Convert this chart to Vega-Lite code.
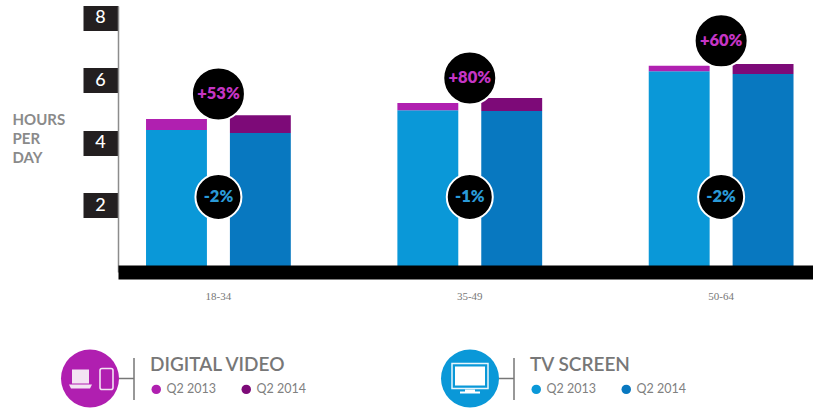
{
 "$schema":"https://vega.github.io/schema/vega-lite/v6.json",
 "width":695,"height":266,
 "autosize":{"type":"none"},
 "padding":{"left":118,"top":6,"right":0,"bottom":136},
 "background":"white",
 "config":{"view":{"stroke":null},"font":"Lato"},
 "datasets":{
  "bars":[
   {"age":"18-34","quarter":"Q2 2013","tv":4.40,"total":4.76},
   {"age":"18-34","quarter":"Q2 2014","tv":4.31,"total":4.88},
   {"age":"35-49","quarter":"Q2 2013","tv":5.04,"total":5.27},
   {"age":"35-49","quarter":"Q2 2014","tv":5.01,"total":5.43},
   {"age":"50-64","quarter":"Q2 2013","tv":6.29,"total":6.46},
   {"age":"50-64","quarter":"Q2 2014","tv":6.20,"total":6.52}
  ],
  "changes":[
   {"age":"18-34","total2013":4.76,"digitalChange":"+53%","tvChange":"-2%"},
   {"age":"35-49","total2013":5.27,"digitalChange":"+80%","tvChange":"-1%"},
   {"age":"50-64","total2013":6.46,"digitalChange":"+60%","tvChange":"-2%"}
  ],
  "icons":[{"legend":"DIGITAL VIDEO"},{"legend":"TV SCREEN"}]
 },
 "resolve":{"scale":{"x":"independent"},"axis":{"x":"independent"}},
 "layer":[
  {
   "encoding":{
    "x":{"field":"age","type":"nominal","scale":{"type":"band","domain":["18-34","35-49","50-64"],"paddingInner":0.424,"paddingOuter":0.0945,"align":0.59},
     "axis":{"title":null,"labelAngle":0,"ticks":false,"domainColor":"#000000","domainWidth":14,"labelPadding":18,"labelFont":"Liberation Serif","labelFontSize":11,"labelColor":"#777777","zindex":1}}
   },
   "layer":[
    {"data":{"name":"bars"},"mark":{"type":"bar"},
     "encoding":{
      "xOffset":{"field":"quarter","type":"nominal","scale":{"domain":["Q2 2013","Q2 2014"],"paddingInner":0.274,"paddingOuter":0}},
      "y":{"field":"tv","type":"quantitative","stack":null,"scale":{"domain":[-0.147,8.378],"nice":false,"zero":false},
       "axis":{"values":[2,4,6,8],"grid":false,"tickSize":35,"tickWidth":25,"tickColor":"#231f20","domainColor":"#8c8c8c","domainWidth":1.5,
        "labelAlign":"center","labelPadding":-17,"labelColor":"#ffffff","labelFontSize":18,"labelFont":"Lato","labelFontWeight":500,
        "title":["HOURS","PER","DAY"],"titleAngle":0,"titleX":-106,"titleY":118,"titleAlign":"left","titleBaseline":"alphabetic","titleLineHeight":19,"titleFont":"Lato","titleFontSize":15,"titleFontWeight":700,"titleColor":"#8a8a8a"}},
      "color":{"field":"quarter","type":"nominal","scale":{"domain":["Q2 2013","Q2 2014"],"range":["#0a98d8","#0878c0"]},
       "legend":{"title":"TV SCREEN","orient":"none","legendX":412,"legendY":350,"columns":2,"symbolType":"circle","symbolSize":90,"symbolStrokeWidth":0,"columnPadding":24,"titlePadding":8,"labelOffset":4,"labelFont":"Lato","labelFontSize":12.5,"labelColor":"#808080","titleFont":"Lato","titleFontSize":19,"titleFontWeight":600,"titleColor":"#777777"}}
     }},
    {"data":{"name":"bars"},"mark":{"type":"bar"},
     "encoding":{
      "xOffset":{"field":"quarter","type":"nominal","scale":{"domain":["Q2 2013","Q2 2014"],"paddingInner":0.274,"paddingOuter":0}},
      "y":{"field":"tv","type":"quantitative","stack":null},
      "y2":{"field":"total"},
      "fill":{"field":"quarter","type":"nominal","scale":{"domain":["Q2 2014","Q2 2013"],"range":["#7d0a78","#b020b0"]},
       "legend":{"title":"DIGITAL VIDEO","values":["Q2 2013","Q2 2014"],"orient":"none","legendX":32,"legendY":350,"columns":2,"symbolType":"circle","symbolSize":90,"symbolStrokeWidth":0,"columnPadding":24,"titlePadding":8,"labelOffset":4,"labelFont":"Lato","labelFontSize":12.5,"labelColor":"#808080","titleFont":"Lato","titleFontSize":19,"titleFontWeight":600,"titleColor":"#777777"}}
     }},
    {"data":{"name":"changes"},"mark":{"type":"point","filled":true,"fill":"#000000","stroke":"#ffffff","strokeWidth":2,"size":2809,"opacity":1,"yOffset":-25},
     "encoding":{"y":{"field":"total2013","type":"quantitative"}}},
    {"data":{"name":"changes"},"mark":{"type":"text","fontSize":16.5,"fontWeight":800,"font":"Lato","color":"#c535c5","baseline":"middle","yOffset":-25},
     "encoding":{"y":{"field":"total2013","type":"quantitative"},"text":{"field":"digitalChange"}}},
    {"data":{"name":"changes"},"mark":{"type":"point","filled":true,"fill":"#000000","stroke":"#ffffff","strokeWidth":2,"size":2116,"opacity":1},
     "encoding":{"y":{"datum":2.26}}},
    {"data":{"name":"changes"},"mark":{"type":"text","fontSize":16.5,"fontWeight":800,"font":"Lato","color":"#2a9ad8","baseline":"middle"},
     "encoding":{"y":{"datum":2.26},"text":{"field":"tvChange"}}}
   ]
  },
  {
   "data":{"name":"icons"},
   "encoding":{
    "x":{"field":"legend","type":"nominal","scale":{"type":"point","domain":["DIGITAL VIDEO","TV SCREEN"],"range":[-28,352],"padding":0},"axis":null},
    "y":{"datum":-3.56}
   },
   "layer":[
    {"mark":{"type":"point","filled":false,"size":4,"opacity":1,"stroke":"#777777","strokeWidth":1.5,"shape":"M28 0H44M44 -20.5V21.5"}},
    {"transform":[{"filter":"datum.legend==='DIGITAL VIDEO'"}],"mark":{"type":"point","filled":true,"fill":"#b01fb0","size":3364,"opacity":1,"shape":"circle"}},
    {"transform":[{"filter":"datum.legend==='TV SCREEN'"}],"mark":{"type":"point","filled":true,"fill":"#0a98d8","size":3364,"opacity":1,"shape":"circle"}},
    {"transform":[{"filter":"datum.legend==='DIGITAL VIDEO'"}],"mark":{"type":"point","filled":true,"fill":"#f3e3f3","size":4,"opacity":1,"shape":"M-18 -9H-1V5H-18ZM-21 6H2L0 10H-19Z"}},
    {"transform":[{"filter":"datum.legend==='DIGITAL VIDEO'"}],"mark":{"type":"point","filled":false,"stroke":"#f3e3f3","strokeWidth":1.6,"size":4,"opacity":1,"shape":"M12 -10H21Q23 -10 23 -8V9Q23 11 21 11H12Q10 11 10 9V-8Q10 -10 12 -10Z"}},
    {"transform":[{"filter":"datum.legend==='TV SCREEN'"}],"mark":{"type":"point","filled":false,"stroke":"#e8f5fc","strokeWidth":1.5,"size":4,"opacity":1,"shape":"M-18 -15H18V10H-18Z"}},
    {"transform":[{"filter":"datum.legend==='TV SCREEN'"}],"mark":{"type":"point","filled":true,"fill":"#ffffff","size":4,"opacity":1,"shape":"M-15 -12H15V7H-15ZM-5 11H5V13H10V15H-10V13H-5Z"}}
   ]
  }
 ]
}
